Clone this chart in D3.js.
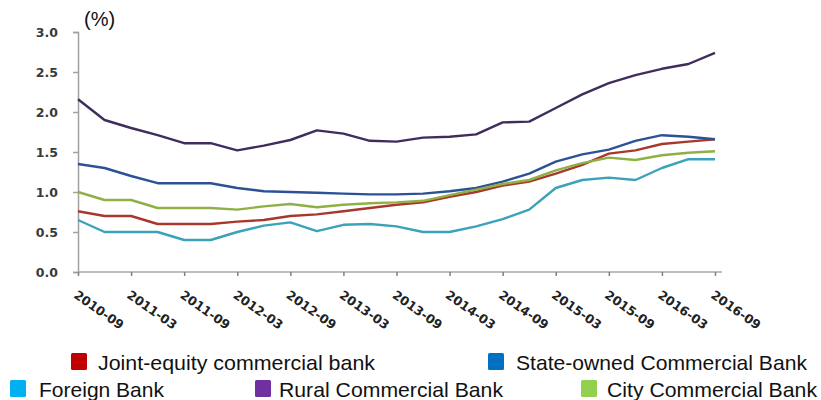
<!DOCTYPE html>
<html>
<head>
<meta charset="utf-8">
<title>NPL ratio by bank type</title>
<script src="https://d3js.org/d3.v7.min.js"></script>
<style>
	html, body { margin: 0; background: #fff; }
	svg { display: block; }
	.ytick text { font-family: "DejaVu Sans"; font-weight: bold; font-size: 12.5px; fill: #3a3a3a; }
	.xlab { font-family: "DejaVu Sans"; font-weight: bold; font-size: 12.5px; fill: #222; }
	.legend text { font-family: "Liberation Sans", Arial; font-size: 21px; fill: #111; }
</style>
</head>
<body>
<svg id="chart" width="821" height="400"></svg>
<script>
// quarterly periods, 2010-09 .. 2016-09
let periods = ["2010-09","2010-12","2011-03","2011-06","2011-09","2011-12","2012-03","2012-06","2012-09",
	"2012-12","2013-03","2013-06","2013-09","2013-12","2014-03","2014-06","2014-09","2014-12",
	"2015-03","2015-06","2015-09","2015-12","2016-03","2016-06","2016-09"];
let tickLabels = periods.filter((d, i) => i % 2 == 0);
let yTicks = [0, 0.5, 1.0, 1.5, 2.0, 2.5, 3.0];

let jointEquity = [0.76,0.70,0.70,0.60,0.60,0.60,0.63,0.65,0.70,0.72,0.76,0.80,0.84,0.87,0.94,1.00,1.08,1.13,1.23,1.34,1.48,1.52,1.60,1.63,1.66];
let stateOwned  = [1.35,1.30,1.20,1.11,1.11,1.11,1.05,1.01,1.00,0.99,0.98,0.97,0.97,0.98,1.01,1.05,1.13,1.23,1.38,1.47,1.53,1.64,1.71,1.69,1.66];
let foreign     = [0.65,0.50,0.50,0.50,0.40,0.40,0.50,0.58,0.62,0.51,0.59,0.60,0.57,0.50,0.50,0.57,0.66,0.78,1.05,1.15,1.18,1.15,1.30,1.41,1.41];
let rural       = [2.16,1.90,1.80,1.71,1.61,1.61,1.52,1.58,1.65,1.77,1.73,1.64,1.63,1.68,1.69,1.72,1.87,1.88,2.05,2.22,2.36,2.46,2.54,2.60,2.74];
let city        = [1.00,0.90,0.90,0.80,0.80,0.80,0.78,0.82,0.85,0.81,0.84,0.86,0.87,0.89,0.96,1.03,1.10,1.15,1.27,1.36,1.43,1.40,1.46,1.49,1.51];

let seriesNames = ["Joint-equity commercial bank","State-owned Commercial Bank","Foreign Bank","Rural Commercial Bank","City Commercial Bank"];
let lineColors  = ["#a8382c","#2c5296","#3aa2b9","#3f2d5e","#8fb044"];
let legendColors = ["#c00000","#0070c0","#00b0f0","#7030a0","#92d050"];
let seriesValues = [jointEquity, stateOwned, foreign, rural, city];

let svg = d3.select("#chart");

let x = d3.scalePoint().domain(periods).range([78, 715]);
let y = d3.scaleLinear().domain([0, 3]).range([272, 32]);

// y axis
let yAxis = svg.append("g")
	.attr("class", "ytick")
	.attr("transform", "translate(78,0)")
	.call(d3.axisLeft(y).tickValues(yTicks).tickFormat(d3.format(".1f")).tickSize(5).tickPadding(15));
yAxis.select(".domain").attr("stroke", "#a0a0a0").attr("stroke-width", 1.5);
yAxis.selectAll(".tick line").attr("stroke", "#a0a0a0").attr("stroke-width", 1.5);

// x axis
let xAxis = svg.append("g")
	.attr("transform", "translate(0,272)")
	.call(d3.axisBottom(x).tickValues(tickLabels).tickSize(4).tickFormat(""));
xAxis.select(".domain").attr("stroke", "#a8a8a8").attr("stroke-width", 1.5).attr("d", "M78,0H722");
xAxis.selectAll(".tick line").attr("stroke", "#808080").attr("stroke-width", 1.5);

svg.append("g").selectAll("text")
	.data(tickLabels)
	.join("text")
	.attr("class", "xlab")
	.attr("transform", d => "translate(" + (x(d) - 5) + ",297) rotate(35)")
	.text(d => d);

// unit label
svg.append("text")
	.attr("x", 84).attr("y", 26)
	.attr("font-family", "Liberation Sans, Arial")
	.attr("font-size", 20)
	.attr("fill", "#111")
	.text("(%)");

// lines
let line = d3.line().x((d, i) => x(periods[i])).y(d => y(d));

svg.append("g").selectAll("path")
	.data(seriesValues)
	.join("path")
	.attr("fill", "none")
	.attr("stroke", (d, i) => lineColors[i])
	.attr("stroke-width", 2.4)
	.attr("stroke-linejoin", "round")
	.attr("d", line);

// legend
let legendPos = [
	{ x: 71, y: 353, tx: 98, w: 277 },
	{ x: 488, y: 353, tx: 516, w: 291 },
	{ x: 10, y: 380, tx: 39, w: 125 },
	{ x: 255, y: 380, tx: 279, w: 224 },
	{ x: 581, y: 380, tx: 607, w: 210 }
];

let legend = svg.append("g").attr("class", "legend");
let items = legend.selectAll("g")
	.data(seriesNames)
	.join("g")
	.attr("transform", (d, i) => "translate(" + legendPos[i].x + "," + legendPos[i].y + ")");

items.append("rect")
	.attr("width", 16).attr("height", 17)
	.attr("rx", 1.5)
	.attr("fill", (d, i) => legendColors[i]);

items.append("text")
	.attr("x", (d, i) => legendPos[i].tx - legendPos[i].x)
	.attr("y", 17)
	.attr("textLength", (d, i) => legendPos[i].w)
	.attr("lengthAdjust", "spacingAndGlyphs")
	.text(d => d);
</script>
</body>
</html>
